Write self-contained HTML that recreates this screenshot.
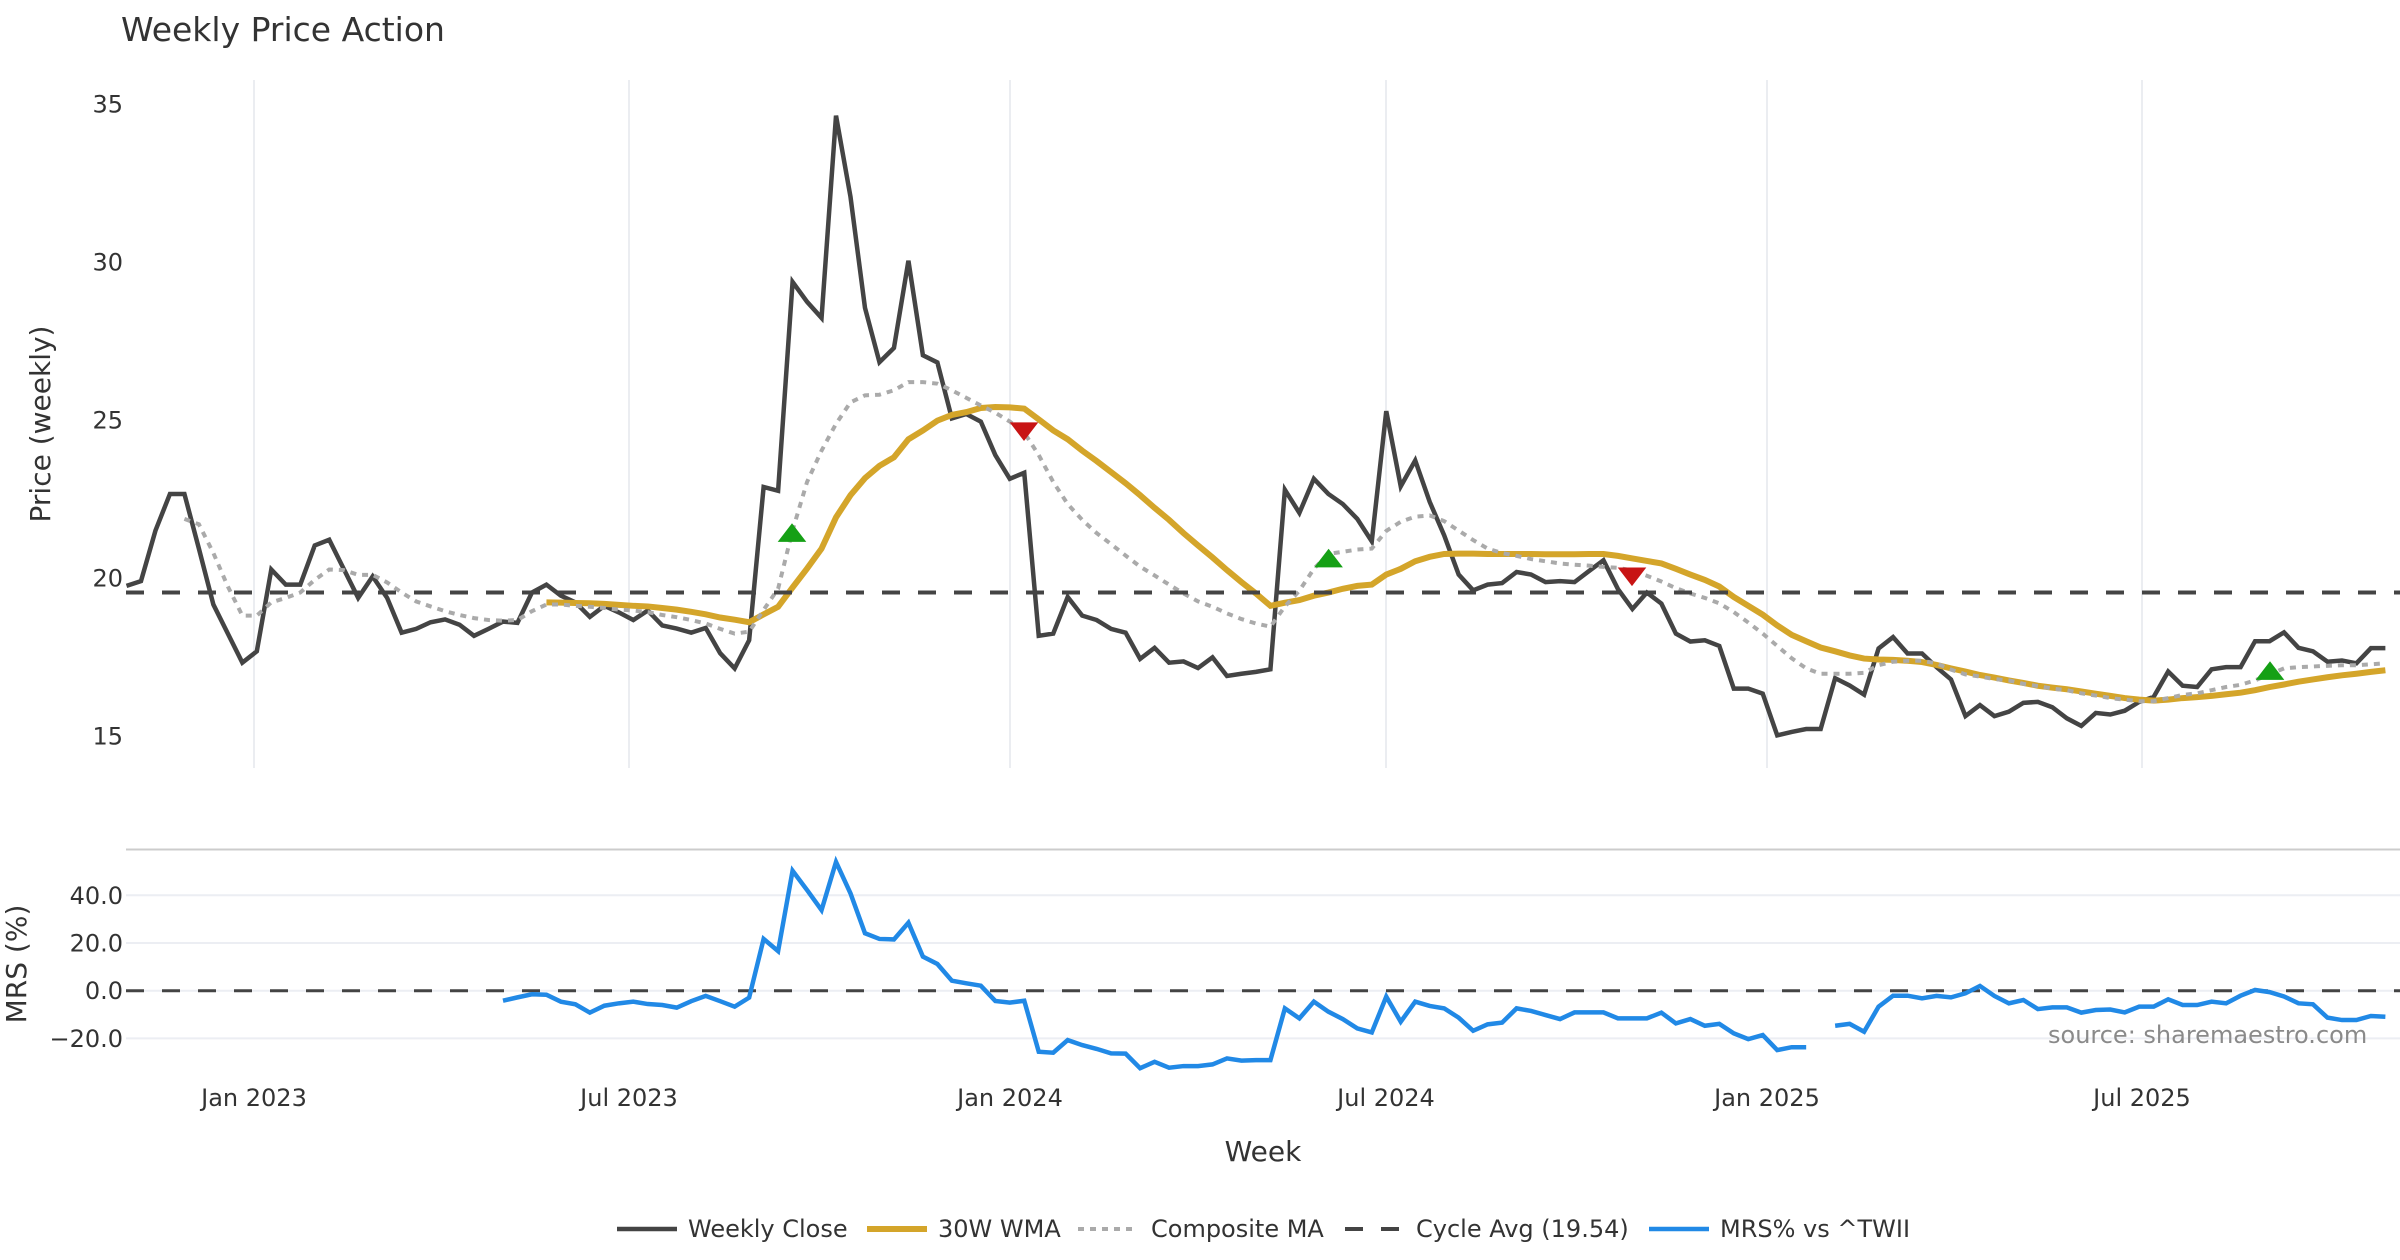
<!DOCTYPE html>
<html><head><meta charset="utf-8"><style>
html,body{margin:0;padding:0;background:#fff;}
svg{display:block;font-family:"DejaVu Sans","Liberation Sans",sans-serif;}
</style></head><body>
<svg width="2400" height="1260" viewBox="0 0 2400 1260" xmlns="http://www.w3.org/2000/svg">
<rect width="2400" height="1260" fill="#fff"/>
<!-- title -->
<text x="121" y="41" font-size="33" fill="#333">Weekly Price Action</text>

<!-- price panel vertical gridlines -->
<g stroke="#ebedf1" stroke-width="2">
<line x1="254" y1="80" x2="254" y2="768"/>
<line x1="629" y1="80" x2="629" y2="768"/>
<line x1="1010" y1="80" x2="1010" y2="768"/>
<line x1="1386" y1="80" x2="1386" y2="768"/>
<line x1="1767" y1="80" x2="1767" y2="768"/>
<line x1="2142" y1="80" x2="2142" y2="768"/>
</g>

<!-- MRS gridlines -->
<g stroke="#eceef3" stroke-width="2">
<line x1="126" y1="895.3" x2="2400" y2="895.3"/>
<line x1="126" y1="943" x2="2400" y2="943"/>
<line x1="126" y1="990.7" x2="2400" y2="990.7"/>
<line x1="126" y1="1038.4" x2="2400" y2="1038.4"/>
</g>
<!-- separator -->
<line x1="126" y1="849.5" x2="2400" y2="849.5" stroke="#cccccc" stroke-width="2"/>

<!-- y tick labels -->
<g font-size="24" fill="#333" text-anchor="end">
<text x="123" y="112.5">35</text>
<text x="123" y="270.5">30</text>
<text x="123" y="428.5">25</text>
<text x="123" y="586.5">20</text>
<text x="123" y="744.5">15</text>
<text x="123" y="903.8">40.0</text>
<text x="123" y="951.5">20.0</text>
<text x="123" y="999.2">0.0</text>
<text x="123" y="1046.9">−20.0</text>
</g>

<!-- x tick labels -->
<g font-size="24" fill="#333" text-anchor="middle">
<text x="254" y="1106">Jan 2023</text>
<text x="629" y="1106">Jul 2023</text>
<text x="1010" y="1106">Jan 2024</text>
<text x="1386" y="1106">Jul 2024</text>
<text x="1767" y="1106">Jan 2025</text>
<text x="2142" y="1106">Jul 2025</text>
</g>
<text x="1263" y="1161" font-size="28" fill="#333" text-anchor="middle">Week</text>
<text transform="translate(50,424) rotate(-90)" font-size="28" fill="#333" text-anchor="middle">Price (weekly)</text>
<text transform="translate(26,964) rotate(-90)" font-size="28" fill="#333" text-anchor="middle">MRS (%)</text>

<!-- price series -->
<g transform="matrix(14.48 0 0 -31.6 126.5 1210)" fill="none">
<polyline vector-effect="non-scaling-stroke" stroke="#444444" stroke-width="4.5" points="0,19.75 1,19.9 2,21.5 3,22.66 4,22.66 5,20.93 6,19.16 7,18.24 8,17.32 9,17.68 10,20.27 11,19.79 12,19.79 13,21.03 14,21.21 15,20.29 16,19.37 17,20.05 18,19.37 19,18.27 20,18.39 21,18.6 22,18.69 23,18.52 24,18.17 25,18.39 26,18.62 27,18.58 28,19.54 29,19.79 30,19.44 31,19.23 32,18.77 33,19.12 34,18.91 35,18.67 36,18.97 37,18.5 38,18.4 39,18.27 40,18.42 41,17.62 42,17.14 43,18.03 44,22.88 45,22.76 46,29.37 47,28.74 48,28.23 49,34.63 50,32.06 51,28.55 52,26.83 53,27.28 54,30.04 55,27.05 56,26.82 57,25.05 58,25.19 59,24.95 60,23.89 61,23.14 62,23.33 63,18.17 64,18.24 65,19.4 66,18.81 67,18.67 68,18.39 69,18.27 70,17.44 71,17.79 72,17.32 73,17.36 74,17.15 75,17.49 76,16.9 77,16.97 78,17.03 79,17.11 80,22.79 81,22.06 82,23.14 83,22.66 84,22.34 85,21.87 86,21.16 87,25.28 88,22.9 89,23.72 90,22.41 91,21.35 92,20.11 93,19.61 94,19.79 95,19.84 96,20.19 97,20.11 98,19.87 99,19.9 100,19.87 101,20.22 102,20.56 103,19.65 104,19.02 105,19.54 106,19.19 107,18.24 108,17.99 109,18.03 110,17.85 111,16.5 112,16.5 113,16.34 114,15.02 115,15.13 116,15.22 117,15.22 118,16.83 119,16.6 120,16.31 121,17.77 122,18.13 123,17.61 124,17.61 125,17.18 126,16.79 127,15.63 128,15.98 129,15.63 130,15.77 131,16.05 132,16.08 133,15.91 134,15.56 135,15.32 136,15.73 137,15.68 138,15.8 139,16.08 140,16.24 141,17.04 142,16.59 143,16.55 144,17.11 145,17.18 146,17.18 147,18 148,18 149,18.28 150,17.79 151,17.68 152,17.35 153,17.39 154,17.3 155,17.78 156,17.78"/>
<polyline vector-effect="non-scaling-stroke" stroke="#d4a52a" stroke-width="6" points="29,19.23 30,19.22 31,19.21 32,19.2 33,19.18 34,19.15 35,19.12 36,19.1 37,19.05 38,19 39,18.93 40,18.85 41,18.75 42,18.68 43,18.6 44,18.85 45,19.09 46,19.7 47,20.3 48,20.93 49,21.92 50,22.62 51,23.16 52,23.55 53,23.82 54,24.39 55,24.67 56,24.98 57,25.16 58,25.25 59,25.38 60,25.41 61,25.4 62,25.36 63,25.02 64,24.67 65,24.39 66,24.03 67,23.7 68,23.35 69,23 70,22.62 71,22.22 72,21.84 73,21.42 74,21.03 75,20.65 76,20.25 77,19.87 78,19.51 79,19.12 80,19.22 81,19.3 82,19.44 83,19.54 84,19.66 85,19.75 86,19.79 87,20.11 88,20.29 89,20.53 90,20.67 91,20.76 92,20.77 93,20.77 94,20.76 95,20.76 96,20.76 97,20.76 98,20.75 99,20.75 100,20.75 101,20.76 102,20.76 103,20.7 104,20.62 105,20.54 106,20.46 107,20.29 108,20.11 109,19.94 110,19.73 111,19.4 112,19.12 113,18.84 114,18.5 115,18.2 116,18 117,17.8 118,17.68 119,17.55 120,17.45 121,17.42 122,17.41 123,17.38 124,17.34 125,17.25 126,17.14 127,17.04 128,16.93 129,16.85 130,16.76 131,16.68 132,16.59 133,16.53 134,16.48 135,16.41 136,16.34 137,16.27 138,16.2 139,16.15 140,16.12 141,16.15 142,16.2 143,16.23 144,16.27 145,16.32 146,16.37 147,16.45 148,16.55 149,16.63 150,16.72 151,16.79 152,16.86 153,16.92 154,16.97 155,17.03 156,17.08"/>
<polyline vector-effect="non-scaling-stroke" stroke="#aaaaaa" stroke-width="4" stroke-dasharray="6,6" points="4,21.87 5,21.7 6,20.79 7,19.73 8,18.81 9,18.81 10,19.23 11,19.37 12,19.54 13,19.94 14,20.27 15,20.25 16,20.1 17,20.1 18,19.86 19,19.54 20,19.26 21,19.1 22,18.95 23,18.83 24,18.73 25,18.67 26,18.65 27,18.67 28,18.95 29,19.16 30,19.16 31,19.12 32,19.09 33,19.05 34,19 35,18.97 36,18.92 37,18.83 38,18.76 39,18.67 40,18.56 41,18.39 42,18.24 43,18.3 44,18.99 45,19.66 46,21.51 47,23.04 48,24.03 49,24.88 50,25.56 51,25.78 52,25.8 53,25.94 54,26.2 55,26.2 56,26.15 57,25.94 58,25.7 59,25.46 60,25.23 61,24.95 62,24.6 63,23.89 64,23.04 65,22.34 66,21.84 67,21.42 68,21.07 69,20.71 70,20.36 71,20.08 72,19.79 73,19.51 74,19.26 75,19.09 76,18.88 77,18.7 78,18.56 79,18.46 80,19.1 81,19.6 82,20.29 83,20.76 84,20.83 85,20.9 86,20.93 87,21.49 88,21.78 89,21.94 90,21.98 91,21.8 92,21.5 93,21.2 94,20.93 95,20.79 96,20.7 97,20.6 98,20.53 99,20.46 100,20.42 101,20.39 102,20.35 103,20.32 104,20.24 105,20.07 106,19.89 107,19.68 108,19.51 109,19.37 110,19.2 111,18.92 112,18.59 113,18.24 114,17.85 115,17.46 116,17.14 117,16.97 118,16.97 119,16.97 120,17 121,17.24 122,17.35 123,17.38 124,17.38 125,17.3 126,17.1 127,16.95 128,16.88 129,16.8 130,16.76 131,16.65 132,16.58 133,16.5 134,16.45 135,16.35 136,16.28 137,16.2 138,16.15 139,16.1 140,16.1 141,16.2 142,16.3 143,16.35 144,16.45 145,16.55 146,16.62 147,16.76 148,16.95 149,17.14 150,17.18 151,17.2 152,17.22 153,17.24 154,17.24 155,17.27 156,17.3"/>
</g>

<!-- cycle avg -->
<line x1="126" y1="592.5" x2="2400" y2="592.5" stroke="#444" stroke-width="4" stroke-dasharray="18,18"/>

<!-- markers -->
<g>
<polygon fill="#15a015" points="792,523.3 777.7,541.9 806.3,541.9"/>
<polygon fill="#c81414" points="1009.7,422.4 1038.3,422.4 1024,441"/>
<polygon fill="#15a015" points="1328.6,548.8 1314.3,567.4 1342.9,567.4"/>
<polygon fill="#c81414" points="1617.7,567.5 1646.3,567.5 1632,586.1"/>
<polygon fill="#15a015" points="2270,661.3 2255.7,679.9 2284.3,679.9"/>
</g>

<!-- MRS zero line -->
<line x1="126" y1="990.7" x2="2400" y2="990.7" stroke="#444" stroke-width="3" stroke-dasharray="18,18"/>

<!-- MRS series -->
<g transform="matrix(14.48 0 0 -2.385 126.5 990.7)" fill="none">
<polyline vector-effect="non-scaling-stroke" stroke="#2189e6" stroke-width="4.5" points="26,-4.2 27,-2.8 28,-1.5 29,-1.7 30,-4.6 31,-5.7 32,-9.2 33,-6.3 34,-5.3 35,-4.6 36,-5.6 37,-6 38,-7.1 39,-4.4 40,-2.2 41,-4.4 42,-6.7 43,-2.9 44,21.7 45,16.6 46,50.3 47,42.2 48,33.8 49,54 50,40.8 51,24.1 52,21.7 53,21.5 54,28.5 55,14.3 56,11.2 57,4.2 58,3.1 59,2.1 60,-4.3 61,-5 62,-4.2 63,-25.6 64,-26 65,-20.7 66,-22.8 67,-24.4 68,-26.3 69,-26.4 70,-32.5 71,-29.8 72,-32.3 73,-31.6 74,-31.6 75,-30.9 76,-28.4 77,-29.3 78,-29.1 79,-29.1 80,-7.4 81,-11.6 82,-4.6 83,-8.8 84,-11.9 85,-15.8 86,-17.5 87,-2.5 88,-13 89,-4.6 90,-6.4 91,-7.4 92,-11.3 93,-16.8 94,-14.1 95,-13.4 96,-7.4 97,-8.5 98,-10.2 99,-11.9 100,-9.1 101,-9.1 102,-9.1 103,-11.6 104,-11.6 105,-11.6 106,-9.2 107,-13.7 108,-11.9 109,-14.7 110,-13.9 111,-17.9 112,-20.3 113,-18.6 114,-24.9 115,-23.7 116,-23.7"/>
<polyline vector-effect="non-scaling-stroke" stroke="#2189e6" stroke-width="4.5" points="118,-14.7 119,-13.9 120,-17.2 121,-6.7 122,-2.1 123,-2.1 124,-3.2 125,-2.2 126,-2.8 127,-1.1 128,2 129,-2.2 130,-5.3 131,-3.9 132,-7.7 133,-7 134,-7 135,-9.2 136,-8.1 137,-7.9 138,-9.1 139,-6.7 140,-6.7 141,-3.6 142,-6 143,-6 144,-4.6 145,-5.3 146,-2.1 147,0.3 148,-0.6 149,-2.4 150,-5.3 151,-5.7 152,-11.3 153,-12.3 154,-12.3 155,-10.6 156,-10.9"/>
</g>

<!-- source -->
<text x="2048" y="1043" font-size="24" fill="#8a8a8a">source: sharemaestro.com</text>

<!-- legend -->
<g font-size="24" fill="#333">
<line x1="617" y1="1229" x2="677" y2="1229" stroke="#444444" stroke-width="4.5"/>
<text x="688" y="1237">Weekly Close</text>
<line x1="867" y1="1229" x2="927" y2="1229" stroke="#d4a52a" stroke-width="6"/>
<text x="938" y="1237">30W WMA</text>
<line x1="1078" y1="1229" x2="1138" y2="1229" stroke="#aaaaaa" stroke-width="4" stroke-dasharray="6,6"/>
<text x="1151" y="1237">Composite MA</text>
<line x1="1345" y1="1229" x2="1405" y2="1229" stroke="#444" stroke-width="4" stroke-dasharray="18,18"/>
<text x="1416" y="1237">Cycle Avg (19.54)</text>
<line x1="1649" y1="1229" x2="1709" y2="1229" stroke="#2189e6" stroke-width="4.5"/>
<text x="1720" y="1237">MRS% vs ^TWII</text>
</g>
</svg>
</body></html>
